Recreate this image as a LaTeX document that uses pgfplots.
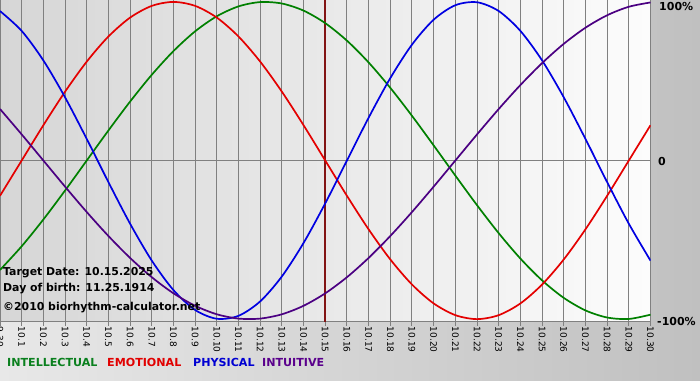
\documentclass[border=0pt]{standalone}
\usepackage{pgfplots}
\usepackage{pgfplotstable}
\pgfplotsset{compat=1.18}
\usepackage{fontspec}
\setmainfont{DejaVu Sans}
\definecolor{cInt}{RGB}{0,128,0}
\definecolor{cEmo}{RGB}{228,0,0}
\definecolor{cPhy}{RGB}{0,0,225}
\definecolor{cItu}{RGB}{75,0,130}
\definecolor{tInt}{RGB}{10,128,30}
\definecolor{tEmo}{RGB}{225,0,0}
\definecolor{tPhy}{RGB}{0,0,210}
\definecolor{tItu}{RGB}{90,0,140}
\definecolor{gridgray}{RGB}{128,128,128}
\definecolor{markred}{RGB}{130,20,20}
\definecolor{outerL}{RGB}{232,232,232}
\definecolor{outerR}{RGB}{192,192,192}
\definecolor{plotL}{RGB}{214,214,214}
\definecolor{plotR}{RGB}{252,252,252}

\pgfplotstableread{
k phy emo int itu
0 0.9423 -0.2225 -0.6901 0.3247
1 0.8170 0 -0.5406 0.1646
2 0.6311 0.2225 -0.3717 0
3 0.3984 0.4339 -0.1893 -0.1646
4 0.1362 0.6235 0 -0.3247
5 -0.1362 0.7818 0.1893 -0.4759
6 -0.3984 0.9010 0.3717 -0.6142
7 -0.6311 0.9749 0.5406 -0.7357
8 -0.8170 1 0.6901 -0.8372
9 -0.9423 0.9749 0.8146 -0.9158
10 -0.9977 0.9010 0.9096 -0.9694
11 -0.9791 0.7818 0.9718 -0.9966
12 -0.8879 0.6235 0.9989 -0.9966
13 -0.7308 0.4339 0.9898 -0.9694
14 -0.5196 0.2225 0.9450 -0.9158
15 -0.2698 0 0.8660 -0.8372
16 0 -0.2225 0.7557 -0.7357
17 0.2698 -0.4339 0.6182 -0.6142
18 0.5196 -0.6235 0.4582 -0.4759
19 0.7308 -0.7818 0.2817 -0.3247
20 0.8879 -0.9010 0.0951 -0.1646
21 0.9791 -0.9749 -0.0951 0
22 0.9977 -1 -0.2817 0.1646
23 0.9423 -0.9749 -0.4582 0.3247
24 0.8170 -0.9010 -0.6182 0.4759
25 0.6311 -0.7818 -0.7557 0.6142
26 0.3984 -0.6235 -0.8660 0.7357
27 0.1362 -0.4339 -0.9450 0.8372
28 -0.1362 -0.2225 -0.9898 0.9158
29 -0.3984 0 -0.9989 0.9694
30 -0.6311 0.2225 -0.9718 0.9966
}\bio

\begin{document}
\begin{tikzpicture}[x=1pt,y=1pt]
\path[use as bounding box] (0,0) rectangle (700,-380);
\shade[left color=outerL, right color=outerR] (0,0) rectangle (700,-380);
\begin{axis}[
  at={(0,0)}, anchor=north west,
  scale only axis, width=650.5pt, height=321.5pt,
  xmin=0, xmax=30, ymin=-1.015, ymax=1.012,
  axis background/.style={left color=plotL, right color=plotR},
  axis x line*=bottom, axis y line=none,
  x axis line style={draw=gridgray, line width=1pt, -},
  xtick={0,...,30},
  xticklabels={9.30,10.1,10.2,10.3,10.4,10.5,10.6,10.7,10.8,10.9,10.10,10.11,10.12,10.13,10.14,10.15,10.16,10.17,10.18,10.19,10.20,10.21,10.22,10.23,10.24,10.25,10.26,10.27,10.28,10.29,10.30},
  xmajorgrids,
  grid style={draw=gridgray, line width=1pt},
  xtick align=outside,
  major tick length=4pt,
  tick style={draw=gridgray, line width=1pt},
  xticklabel style={rotate=-90, anchor=west, font=\fontsize{9}{10}\selectfont, inner sep=1pt, text=black},
  ytick=\empty,
]
\addplot[gridgray, line width=1pt] coordinates {(0,0) (30,0)};
\addplot[markred, line width=2pt] coordinates {(15,-1.015) (15,1.012)};
\addplot[cInt, line width=1.7pt, smooth] table[x=k,y=int]{\bio};
\addplot[cEmo, line width=1.7pt, smooth] table[x=k,y=emo]{\bio};
\addplot[cPhy, line width=1.7pt, smooth] table[x=k,y=phy]{\bio};
\addplot[cItu, line width=1.7pt, smooth] table[x=k,y=itu]{\bio};
\end{axis}
\begin{scope}[every node/.style={inner sep=0pt, font=\bfseries\fontsize{10.9}{12}\selectfont}]
\node[anchor=base west] at (3,-275.7) {Target Date: 10.15.2025};
\node[anchor=base west] at (3,-291) {Day of birth: 11.25.1914};
\node[anchor=base west] at (3,-310.7) {©2010 biorhythm-calculator.net};
\end{scope}
\begin{scope}[every node/.style={inner sep=0pt, font=\bfseries\fontsize{11}{12}\selectfont}]
\node[anchor=base west] at (659,-10.7) {100\%};
\node[anchor=base west] at (658,-165) {0};
\node[anchor=base west] at (657,-325) {-100\%};
\end{scope}
\begin{scope}[every node/.style={inner sep=0pt, font=\bfseries\fontsize{11.1}{12}\selectfont}]
\node[anchor=base west, text=tInt] at (7,-366) {INTELLECTUAL};
\node[anchor=base west, text=tEmo] at (107,-366) {EMOTIONAL};
\node[anchor=base west, text=tPhy] at (193,-366) {PHYSICAL};
\node[anchor=base west, text=tItu] at (262,-366) {INTUITIVE};
\end{scope}
\end{tikzpicture}
\end{document}
